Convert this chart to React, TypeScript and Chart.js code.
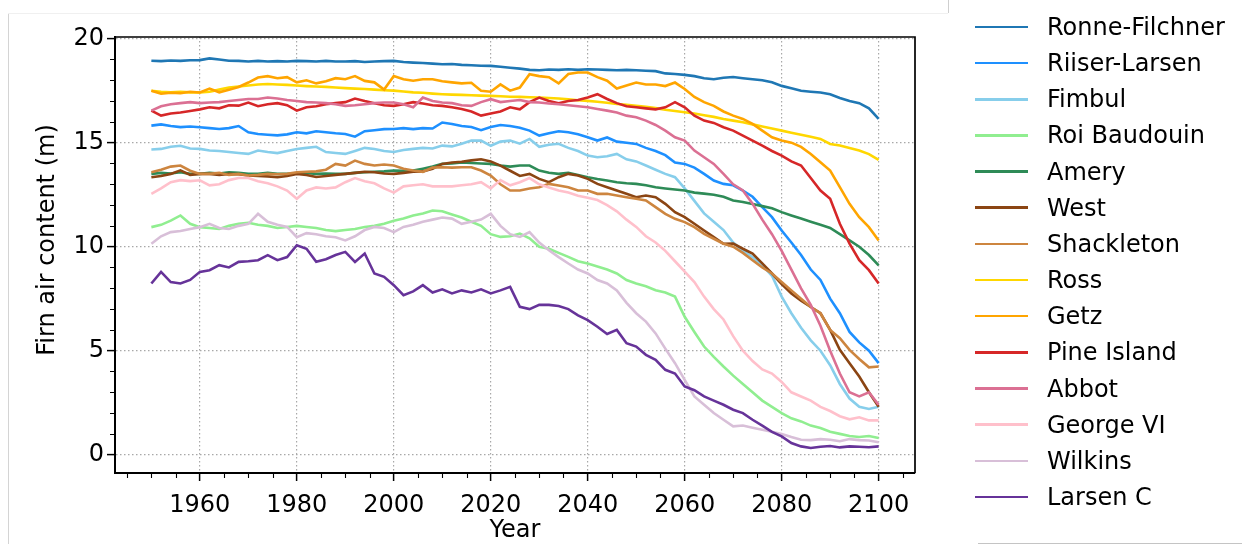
import React, { useEffect, useRef } from "react";
import { Chart, registerables } from "chart.js";

Chart.register(...registerables);

const YEARS = [
  1950, 1952, 1954, 1956, 1958, 1960, 1962, 1964, 1966, 1968,
  1970, 1972, 1974, 1976, 1978, 1980, 1982, 1984, 1986, 1988,
  1990, 1992, 1994, 1996, 1998, 2000, 2002, 2004, 2006, 2008,
  2010, 2012, 2014, 2016, 2018, 2020, 2022, 2024, 2026, 2028,
  2030, 2032, 2034, 2036, 2038, 2040, 2042, 2044, 2046, 2048,
  2050, 2052, 2054, 2056, 2058, 2060, 2062, 2064, 2066, 2068,
  2070, 2072, 2074, 2076, 2078, 2080, 2082, 2084, 2086, 2088,
  2090, 2092, 2094, 2096, 2098, 2100,
];

const RONNE_FILCHNER = [
  18.94, 18.92, 18.95, 18.93, 18.96, 18.97, 19.05, 19.0, 18.94, 18.93,
  18.9, 18.93, 18.9, 18.92, 18.9, 18.93, 18.92, 18.9, 18.93, 18.9,
  18.9, 18.92, 18.88, 18.9, 18.92, 18.93, 18.88, 18.85, 18.83, 18.8,
  18.77, 18.78, 18.74, 18.72, 18.7, 18.69, 18.65, 18.6, 18.56, 18.5,
  18.48, 18.52, 18.5, 18.53, 18.5, 18.53, 18.52, 18.5, 18.48, 18.5,
  18.48, 18.46, 18.44, 18.33, 18.3, 18.26, 18.2, 18.1, 18.05, 18.12,
  18.16, 18.1, 18.05, 18.0, 17.9, 17.73, 17.62, 17.5, 17.45, 17.41,
  17.33, 17.15, 17.0, 16.9, 16.65, 16.14,
];
const RIISER_LARSEN = [
  15.82, 15.88, 15.8, 15.75, 15.78, 15.74, 15.7, 15.66, 15.7, 15.8,
  15.5, 15.42, 15.38, 15.35, 15.4, 15.5, 15.45, 15.55, 15.5, 15.45,
  15.42, 15.29, 15.55, 15.6, 15.65, 15.66, 15.7, 15.65, 15.7, 15.68,
  15.97, 15.9, 15.8, 15.75, 15.6, 15.75, 15.85, 15.8, 15.72, 15.58,
  15.34, 15.45, 15.55, 15.5, 15.4, 15.26, 15.1, 15.25, 15.05, 15.0,
  14.94, 14.75, 14.6, 14.4, 14.05, 13.98, 13.8, 13.5, 13.18, 13.02,
  12.95, 12.7, 12.4, 11.9, 11.42, 10.78, 10.2, 9.6, 8.9, 8.4,
  7.5, 6.8, 5.9, 5.4, 5.0, 4.4,
];
const FIMBUL = [
  14.67, 14.7, 14.8, 14.85, 14.72, 14.7, 14.62, 14.6, 14.55, 14.5,
  14.46, 14.62, 14.55, 14.5, 14.6, 14.7, 14.75, 14.8, 14.55, 14.5,
  14.46, 14.6, 14.75, 14.7, 14.6, 14.55, 14.65, 14.7, 14.75, 14.72,
  14.86, 14.82, 14.95, 15.1, 15.1, 14.85, 15.05, 15.1, 14.95, 15.18,
  14.8, 14.9, 14.95, 14.75, 14.6, 14.38, 14.3, 14.35, 14.46, 14.2,
  14.1, 13.9, 13.7, 13.5, 13.34, 12.8, 12.2, 11.6, 11.2, 10.8,
  10.2, 9.8, 9.5, 9.1, 8.6, 7.6, 6.8, 6.1, 5.5, 5.0,
  4.3, 3.4, 2.7, 2.3, 2.2, 2.3,
];
const ROI_BAUDOUIN = [
  10.94, 11.05, 11.25, 11.5, 11.1, 10.94, 10.9, 10.85, 11.0, 11.1,
  11.15, 11.05, 11.0, 10.9, 10.95, 11.0, 10.95, 10.9, 10.8, 10.75,
  10.8, 10.85, 10.95, 11.0, 11.1, 11.25, 11.35, 11.5, 11.6, 11.74,
  11.7, 11.55, 11.4, 11.2, 11.0, 10.6, 10.47, 10.5, 10.63, 10.4,
  10.0, 9.9, 9.7, 9.51, 9.3, 9.19, 9.05, 8.9, 8.71, 8.4,
  8.23, 8.1, 7.91, 7.8, 7.6, 6.63, 5.9, 5.2, 4.7, 4.24,
  3.8, 3.4, 3.0, 2.6, 2.3, 2.0, 1.75, 1.6, 1.4, 1.28,
  1.1, 1.0, 0.9, 0.85, 0.9, 0.8,
];
const AMERY = [
  13.5, 13.55, 13.52, 13.58, 13.5, 13.5, 13.55, 13.52, 13.58, 13.55,
  13.5, 13.5, 13.55, 13.5, 13.5, 13.53, 13.55, 13.5, 13.52, 13.5,
  13.5, 13.55, 13.58, 13.6, 13.62, 13.66, 13.65, 13.66, 13.75, 13.85,
  13.98, 14.0, 14.05, 14.02, 14.0, 13.98, 13.9, 13.85, 13.9, 13.9,
  13.66, 13.55, 13.5, 13.55, 13.45, 13.34, 13.25, 13.18, 13.1, 13.05,
  13.02, 12.95, 12.86, 12.8, 12.75, 12.7, 12.6, 12.55, 12.5, 12.4,
  12.22, 12.15, 12.05, 11.95, 11.85, 11.66, 11.5, 11.35, 11.2, 11.05,
  10.9, 10.6, 10.3, 10.0, 9.6, 9.1,
];
const WEST = [
  13.34, 13.4, 13.5, 13.67, 13.45, 13.5, 13.5, 13.45, 13.5, 13.48,
  13.42, 13.4, 13.38, 13.34, 13.4, 13.5, 13.45, 13.35, 13.4, 13.45,
  13.5, 13.55, 13.6, 13.58, 13.52, 13.5, 13.55, 13.6, 13.62, 13.75,
  13.98, 14.05, 14.08, 14.15, 14.2, 14.1, 13.9, 13.65, 13.4, 13.5,
  13.26, 13.1, 13.34, 13.5, 13.42, 13.26, 13.02, 12.86, 12.7, 12.54,
  12.38, 12.46, 12.38, 12.06, 11.66, 11.42, 11.1, 10.78, 10.46, 10.14,
  10.15, 9.9, 9.67, 9.2, 8.71, 8.2, 7.75, 7.4, 7.1, 6.8,
  6.0, 5.04, 4.4, 3.76, 3.0, 2.3,
];
const SHACKLETON = [
  13.58, 13.7, 13.85, 13.9, 13.65, 13.5, 13.5, 13.55, 13.45, 13.5,
  13.42, 13.45, 13.5, 13.48, 13.5, 13.58, 13.6, 13.62, 13.7, 13.98,
  13.9, 14.14, 13.98, 13.9, 13.95, 13.9, 13.75, 13.66, 13.6, 13.8,
  13.82, 13.8, 13.82, 13.82, 13.66, 13.42, 13.0, 12.7, 12.7, 12.8,
  12.86, 13.02, 12.94, 12.86, 12.7, 12.7, 12.54, 12.54, 12.46, 12.38,
  12.3, 12.22, 11.9, 11.58, 11.34, 11.18, 10.94, 10.62, 10.38, 10.14,
  10.0, 9.7, 9.35, 9.0, 8.71, 8.3, 7.9, 7.5, 7.1, 6.8,
  6.0, 5.6, 5.04, 4.6, 4.2, 4.24,
];
const ROSS = [
  17.5, 17.45, 17.42, 17.44, 17.42, 17.41, 17.45, 17.55, 17.65, 17.7,
  17.75, 17.8, 17.82, 17.8, 17.78, 17.75, 17.72, 17.7, 17.68, 17.65,
  17.62, 17.6, 17.58, 17.55, 17.52, 17.5, 17.46, 17.42, 17.4, 17.36,
  17.33, 17.31, 17.3, 17.28, 17.26, 17.25, 17.23, 17.21, 17.2, 17.18,
  17.17, 17.15, 17.12, 17.08, 17.04, 17.01, 16.97, 16.92, 16.86, 16.82,
  16.77, 16.72, 16.66, 16.58, 16.52, 16.46, 16.4, 16.32, 16.24, 16.14,
  16.06, 15.98, 15.88, 15.78, 15.68, 15.58, 15.48, 15.38, 15.28, 15.18,
  14.94, 14.86, 14.74, 14.62, 14.45, 14.17,
];
const GETZ = [
  17.5, 17.35, 17.4, 17.38, 17.45, 17.41, 17.6, 17.42, 17.55, 17.68,
  17.89, 18.13, 18.2, 18.1, 18.15, 17.9, 18.0, 17.85, 17.95, 18.1,
  18.05, 18.2, 17.97, 17.9, 17.55, 18.2, 18.05, 17.98, 18.05, 18.05,
  17.95, 17.9, 17.85, 17.88, 17.5, 17.45, 17.8, 17.5, 17.65, 18.29,
  18.2, 18.15, 17.85, 18.3, 18.37, 18.37, 18.15, 17.98, 17.6, 17.75,
  17.89, 17.8, 17.8, 17.72, 17.89, 17.58, 17.2, 16.95, 16.77, 16.5,
  16.3, 16.14, 15.9, 15.58, 15.26, 15.1, 15.0, 14.8, 14.46, 14.06,
  13.66, 12.86, 12.06, 11.42, 10.94, 10.3,
];
const PINE_ISLAND = [
  16.54, 16.3, 16.4, 16.45, 16.52, 16.6, 16.7, 16.65, 16.8, 16.78,
  16.93, 16.75, 16.85, 16.9, 16.8, 16.54, 16.7, 16.75, 16.85, 16.9,
  16.95, 17.12, 17.0, 16.9, 16.8, 16.77, 16.85, 16.95, 16.88, 16.8,
  16.77, 16.7, 16.62, 16.5, 16.3, 16.4, 16.5, 16.7, 16.6, 16.95,
  17.17, 17.0, 16.9, 17.0, 17.05, 17.17, 17.33, 17.1, 16.9, 16.75,
  16.7, 16.65, 16.6, 16.7, 16.95, 16.7, 16.3, 16.06, 15.95, 15.74,
  15.58, 15.34, 15.1, 14.86, 14.6, 14.38, 14.1, 13.9, 13.3, 12.7,
  12.3, 11.1, 10.15, 9.35, 8.87, 8.23,
];
const ABBOT = [
  16.54, 16.75, 16.85, 16.9, 16.95, 16.9, 16.93, 16.95, 17.0, 17.05,
  17.1, 17.1, 17.17, 17.12, 17.05, 17.0, 16.95, 16.93, 16.9, 16.85,
  16.77, 16.8, 16.85, 16.9, 16.93, 16.93, 16.85, 16.7, 17.17, 17.0,
  16.93, 16.9, 16.8, 16.77, 16.95, 17.09, 16.95, 17.0, 17.05, 16.95,
  16.93, 16.88, 16.85, 16.8, 16.75, 16.7, 16.62, 16.54, 16.45, 16.3,
  16.22, 16.06, 15.85, 15.58, 15.26, 15.1, 14.62, 14.3, 13.98, 13.5,
  13.0, 12.7, 12.06, 11.3, 10.6, 9.8, 8.9, 8.0, 7.2, 6.2,
  5.0, 3.9, 3.0, 2.8, 3.0, 2.4,
];
const GEORGE_VI = [
  12.54, 12.8, 13.1, 13.2, 13.15, 13.19, 12.95, 13.0, 13.2, 13.3,
  13.3, 13.15, 13.05, 12.9, 12.7, 12.3, 12.7, 12.85, 12.8, 12.85,
  13.1, 13.3, 13.15, 13.05, 12.8, 12.6, 12.9, 12.95, 13.0, 12.9,
  12.9, 12.9, 12.95, 13.0, 13.1, 12.8, 13.2, 12.95, 13.1, 13.3,
  13.0, 12.85, 12.7, 12.6, 12.45, 12.35, 12.24, 12.0, 11.7, 11.3,
  10.95, 10.5, 10.2, 9.8, 9.3, 8.8, 8.3, 7.6, 7.0, 6.5,
  5.7, 5.0, 4.5, 4.1, 3.9, 3.5, 3.0, 2.8, 2.6, 2.3,
  2.1, 1.85, 1.7, 1.8, 1.65, 1.65,
];
const WILKINS = [
  10.14, 10.5, 10.7, 10.75, 10.85, 10.94, 11.1, 10.9, 10.85, 11.0,
  11.1, 11.58, 11.2, 11.05, 10.95, 10.46, 10.65, 10.6, 10.5, 10.45,
  10.3, 10.5, 10.8, 10.95, 10.9, 10.7, 10.95, 11.05, 11.2, 11.3,
  11.4, 11.35, 11.1, 11.2, 11.3, 11.58, 11.0, 10.6, 10.47, 10.7,
  10.2, 9.83, 9.5, 9.19, 8.9, 8.71, 8.4, 8.23, 7.9, 7.3,
  6.8, 6.4, 5.83, 5.1, 4.4, 3.6, 2.8, 2.4, 2.0, 1.68,
  1.36, 1.4, 1.3, 1.2, 1.1, 1.0, 0.85, 0.72, 0.7, 0.75,
  0.72, 0.65, 0.75, 0.7, 0.68, 0.6,
];
const LARSEN_C = [
  8.23, 8.79, 8.3, 8.23, 8.4, 8.79, 8.87, 9.11, 9.0, 9.27,
  9.3, 9.35, 9.59, 9.35, 9.5, 10.07, 9.9, 9.27, 9.4, 9.6,
  9.75, 9.27, 9.67, 8.71, 8.55, 8.15, 7.67, 7.85, 8.15, 7.8,
  7.95, 7.75, 7.9, 7.8, 7.95, 7.75, 7.9, 8.07, 7.11, 7.0,
  7.2, 7.2, 7.15, 7.0, 6.7, 6.47, 6.15, 5.8, 6.0, 5.36,
  5.2, 4.8, 4.56, 4.08, 3.9, 3.28, 3.1, 2.8, 2.6, 2.4,
  2.16, 2.0, 1.68, 1.4, 1.1, 0.88, 0.56, 0.4, 0.32, 0.38,
  0.42, 0.35, 0.4, 0.38, 0.36, 0.4,
];

const SERIES_NAMES = [
  "Ronne-Filchner", "Riiser-Larsen", "Fimbul", "Roi Baudouin", "Amery", "West",
  "Shackleton", "Ross", "Getz", "Pine Island", "Abbot", "George VI", "Wilkins", "Larsen C",
];
const SERIES_COLORS = [
  "#1f77b4", "#1e90ff", "#87ceeb", "#90ee90", "#2e8b57", "#8b4513",
  "#cd853f", "#ffd700", "#ffa500", "#d62728", "#db7093", "#ffc0cb", "#d8bfd8", "#663399",
];

const X_TICKS = [1960, 1980, 2000, 2020, 2040, 2060, 2080, 2100];
const Y_TICKS = [0, 5, 10, 15, 20];
const X_MINOR = [1945, 1950, 1955, 1965, 1970, 1975, 1985, 1990, 1995, 2005, 2010, 2015, 2025, 2030, 2035, 2045, 2050, 2055, 2065, 2070, 2075, 2085, 2090, 2095, 2105];
const Y_MINOR = [1, 2, 3, 4, 6, 7, 8, 9, 11, 12, 13, 14, 16, 17, 18, 19];

const X_TITLE = "Year";
const Y_TITLE = "Firn air content (m)";

const FONT = "'DejaVu Sans', sans-serif";
const FS = 24;

export default function App() {
  const ref = useRef<HTMLCanvasElement>(null);

  useEffect(() => {
    const canvas = ref.current;
    if (!canvas) return;
    const series = [
      RONNE_FILCHNER, RIISER_LARSEN, FIMBUL, ROI_BAUDOUIN, AMERY, WEST, SHACKLETON,
      ROSS, GETZ, PINE_ISLAND, ABBOT, GEORGE_VI, WILKINS, LARSEN_C,
    ];

    const framePlugin = {
      id: "frame",
      afterDraw(chart: any) {
        const { ctx, chartArea } = chart;
        const { left, right, top, bottom } = chartArea;
        const xs = chart.scales.x;
        const ys = chart.scales.y;
        ctx.save();
        ctx.strokeStyle = "#000";
        ctx.lineWidth = 1.7;
        ctx.beginPath();
        ctx.moveTo(left, top);
        ctx.lineTo(right, top);
        ctx.lineTo(right, bottom);
        ctx.stroke();
        ctx.lineWidth = 1.1;
        ctx.beginPath();
        for (const v of X_MINOR) {
          const px = Math.round(xs.getPixelForValue(v)) + 0.5;
          ctx.moveTo(px, bottom);
          ctx.lineTo(px, bottom + 5);
        }
        for (const v of Y_MINOR) {
          const py = Math.round(ys.getPixelForValue(v)) + 0.5;
          ctx.moveTo(left, py);
          ctx.lineTo(left - 5, py);
        }
        ctx.stroke();
        ctx.fillStyle = "#000";
        ctx.font = `${FS}px ${FONT}`;
        ctx.textAlign = "center";
        ctx.textBaseline = "middle";
        ctx.fillText(X_TITLE, (left + right) / 2, 531);
        ctx.translate(48, 240);
        ctx.rotate(-Math.PI / 2);
        ctx.fillText(Y_TITLE, 0, 0);
        ctx.restore();
      },
    };

    const tickFont = { family: FONT, size: FS };

    const chart = new Chart(canvas, {
      type: "line",
      data: {
        datasets: series.map((vals, i) => ({
          label: SERIES_NAMES[i],
          data: vals.map((v, j) => ({ x: YEARS[j], y: v })),
          borderColor: SERIES_COLORS[i],
          backgroundColor: SERIES_COLORS[i],
          borderWidth: 2.6,
          pointRadius: 0,
          fill: false,
          tension: 0,
          order: series.length - 1 - i,
        })),
      },
      options: {
        responsive: false,
        animation: false,
        devicePixelRatio: 1,
        events: [],
        layout: { padding: { left: 0, top: 37, right: 327, bottom: 0 } },
        plugins: {
          legend: { display: false },
          tooltip: { enabled: false },
        },
        scales: {
          x: {
            type: "linear",
            min: 1942.5,
            max: 2107.5,
            afterBuildTicks: (s: any) => {
              s.ticks = X_TICKS.map((v) => ({ value: v }));
            },
            afterFit: (s: any) => {
              s.height = 71;
            },
            ticks: {
              font: tickFont,
              color: "#000",
              padding: 10,
              maxRotation: 0,
              autoSkip: false,
              callback: (v: any) => String(v),
            },
            grid: {
              color: "#a8a8a8",
              lineWidth: 1.2,
              drawTicks: true,
              tickLength: 8,
              tickColor: "#000",
              tickWidth: 1.5,
            },
            border: { display: true, color: "#000", width: 2, dash: [1.5, 2.5] },
          },
          y: {
            type: "linear",
            min: -0.88,
            max: 20.08,
            afterBuildTicks: (s: any) => {
              s.ticks = Y_TICKS.map((v) => ({ value: v }));
            },
            afterFit: (s: any) => {
              s.width = 115;
            },
            ticks: {
              font: tickFont,
              color: "#000",
              padding: 3,
              callback: (v: any) => String(v),
            },
            grid: {
              color: "#a8a8a8",
              lineWidth: 1.2,
              drawTicks: true,
              tickLength: 8,
              tickColor: "#000",
              tickWidth: 1.5,
            },
            border: { display: true, color: "#000", width: 2, dash: [1.5, 2.5] },
          },
        },
      },
      plugins: [framePlugin],
    } as any);

    return () => chart.destroy();
  }, []);

  return (
    <div style={{ position: "fixed", left: 0, top: 0, width: 1242, height: 544, background: "#fff", overflow: "hidden" }}>
      <canvas ref={ref} width={1242} height={544} style={{ position: "absolute", left: 0, top: 0, width: 1242, height: 544 }} />
      <div style={{ position: "absolute", left: 8, top: 13, width: 1, height: 531, background: "#d4d4d4" }} />
      <div style={{ position: "absolute", left: 8, top: 13, width: 940, height: 1, background: "#f0f0f0" }} />
      <div style={{ position: "absolute", left: 948, top: 0, width: 1, height: 13, background: "#cfcfcf" }} />
      <div style={{ position: "absolute", left: 978, top: 543, width: 264, height: 1, background: "#c4c4c4" }} />
      {SERIES_NAMES.map((name, i) => (
        <div
          key={name}
          style={{
            position: "absolute",
            left: 975,
            top: 27 + i * 36.15 - 15,
            height: 30,
            display: "flex",
            alignItems: "center",
            fontFamily: FONT,
            fontSize: FS,
            color: "#000",
            whiteSpace: "nowrap",
          }}
        >
          <div style={{ width: 53, height: 2.6, background: SERIES_COLORS[i], marginRight: 19 }} />
          <span>{name}</span>
        </div>
      ))}
    </div>
  );
}
